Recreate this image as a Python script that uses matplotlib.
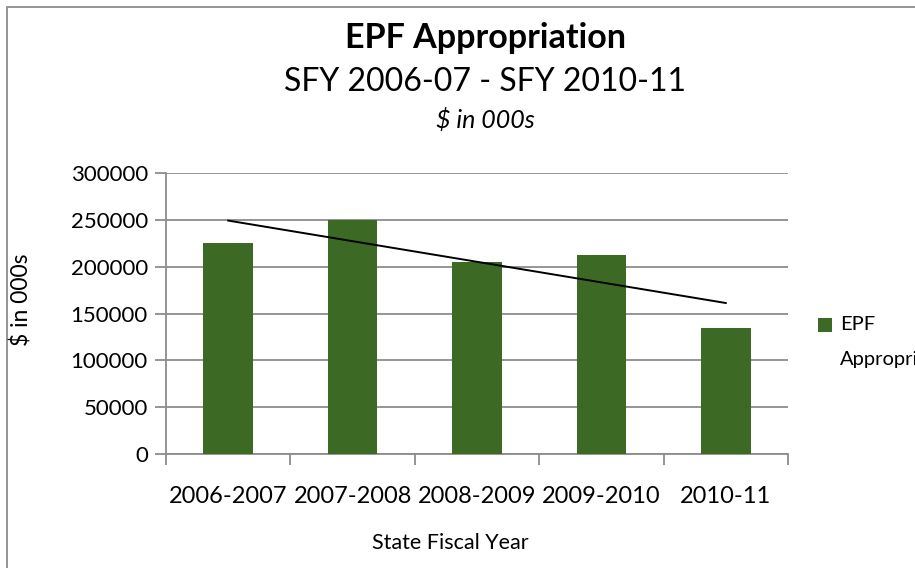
import numpy as np
import matplotlib
matplotlib.use('Agg')
import matplotlib.pyplot as plt
from matplotlib.patches import Rectangle

# 数据
years = ['2006-2007', '2007-2008', '2008-2009', '2009-2010', '2010-11']
epf = [225000, 250000, 205000, 212000, 134000]
yticks = [0, 50000, 100000, 150000, 200000, 250000, 300000]

GREEN = '#3c6a24'
GRID = '#8c8c8c'
FONT = ['Lato', 'DejaVu Sans']

plt.rcParams['font.family'] = FONT

fig = plt.figure(figsize=(9.15, 5.68), dpi=100)
ax = fig.add_axes([166 / 915, 1 - 454 / 568, 622 / 915, 281 / 568])

x = np.arange(1, len(years) + 1)
ax.bar(x, epf, width=0.4, color=GREEN, zorder=3)

# 线性趋势线
p = np.polyfit(x, epf, 1)
ax.plot(x[[0, -1]], np.polyval(p, x[[0, -1]]), color='black', lw=1.4, zorder=4)

ax.set_xlim(0.5, len(years) + 0.5)
ax.set_ylim(0, 300000)
ax.set_yticks(yticks)
ax.set_yticklabels([str(v) for v in yticks], fontsize=16)
ax.yaxis.grid(True, color=GRID, lw=1.3, zorder=0)
ax.tick_params(axis='y', length=8, width=1.3, color=GRID, pad=5)

ax.set_xticks(x)
ax.set_xticklabels(years, fontsize=17)
ax.tick_params(axis='x', length=0, pad=23)
ax.set_xticks(np.arange(0.5, len(years) + 1), minor=True)
ax.tick_params(axis='x', which='minor', length=8, width=1.3, color=GRID)

for s in ['top', 'right']:
    ax.spines[s].set_visible(False)
for s in ['left', 'bottom']:
    ax.spines[s].set_color(GRID)
    ax.spines[s].set_linewidth(1.3)

# 轴标题
fig.text(450 / 915, 1 - 543 / 568, 'State Fiscal Year', ha='center', va='center', fontsize=15.5)
fig.text(22 / 915, 1 - 300 / 568, '$ in 000s', ha='center', va='center',
         fontsize=16.5, rotation=90)

# 标题
fig.text(485 / 915, 1 - 38 / 568, 'EPF Appropriation', ha='center', va='center',
         fontsize=24.5, fontweight='bold')
fig.text(485 / 915, 1 - 82 / 568, 'SFY 2006-07 - SFY 2010-11', ha='center', va='center',
         fontsize=23)
fig.text(485 / 915, 1 - 120 / 568, '$ in 000s', ha='center', va='center',
         fontsize=18, style='italic')

# 图例（原图在右边缘被裁切）
fig.patches.append(Rectangle((818 / 915, 1 - 332 / 568), 14 / 915, 14 / 568,
                             transform=fig.transFigure, facecolor=GREEN, edgecolor='none'))
fig.text(840 / 915, 1 - 325 / 568, 'EPF', ha='left', va='center', fontsize=14.5)
fig.text(840 / 915, 1 - 360 / 568, 'Appropriation', ha='left', va='center', fontsize=14.5)

# 外框
fig.patches.append(Rectangle((7 / 915, -0.1), 1.2, 1 - 7 / 568 + 0.1,
                             transform=fig.transFigure, facecolor='none',
                             edgecolor='#8c8c8c', lw=1.3))

fig.savefig('out.png', dpi=100)
